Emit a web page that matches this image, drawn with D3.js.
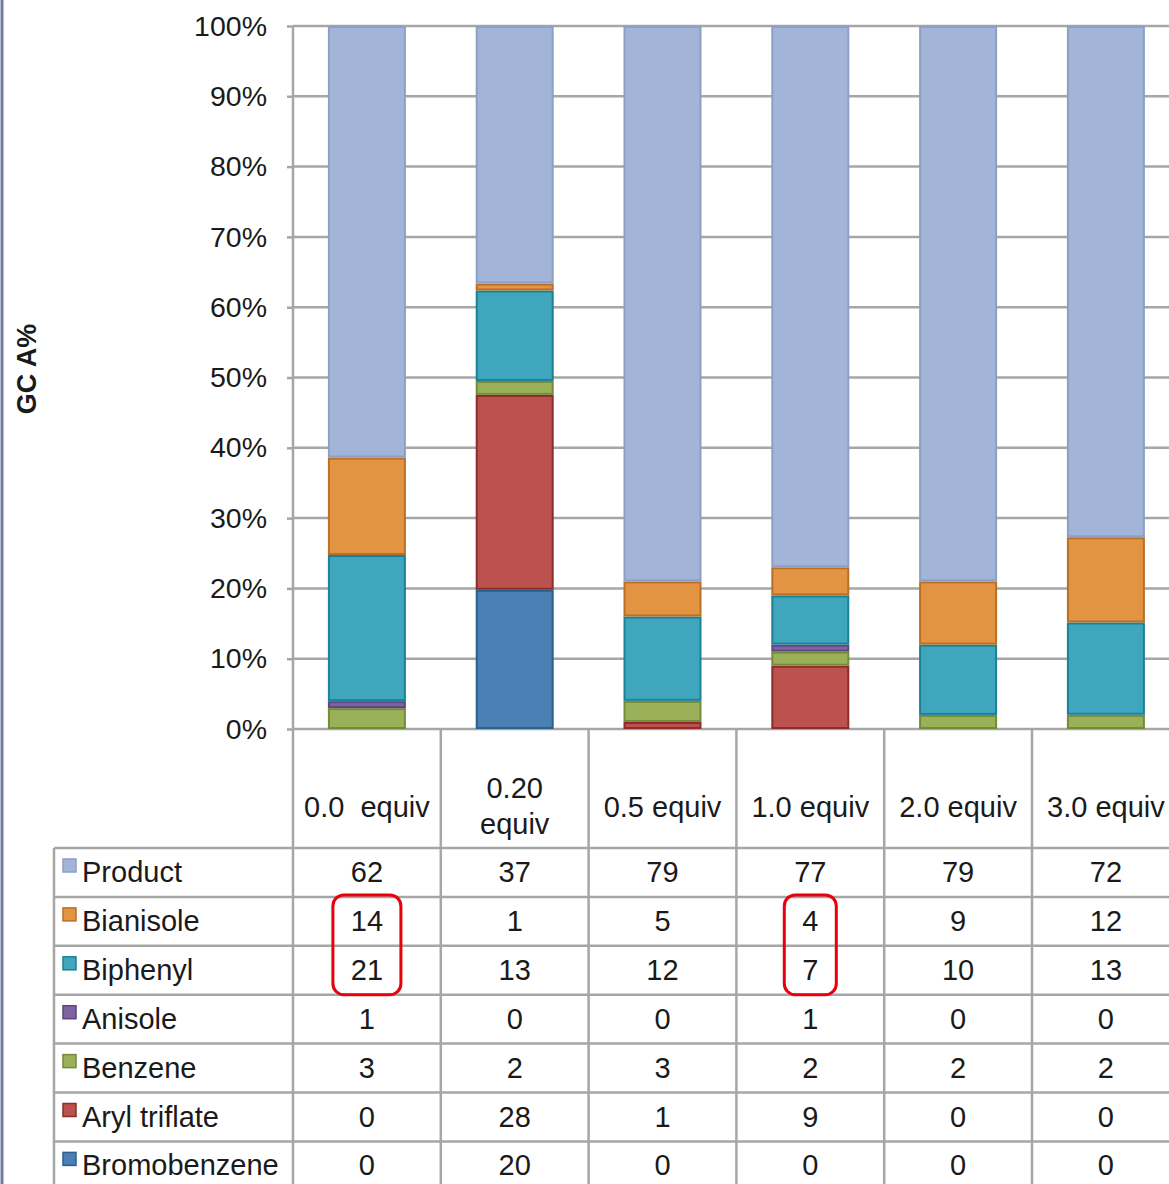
<!DOCTYPE html>
<html>
<head>
<meta charset="utf-8">
<script src="https://cdn.jsdelivr.net/npm/d3@7"></script>
<style>
  body { margin: 0; background: #fff; }
  text { font-family: "Liberation Sans", Arial, sans-serif; fill: #1a1a1a; }
</style>
</head>
<body>
<div id="wrapper"></div>
<script>
// Data (GC area %)
const categories = ["0.0  equiv", "0.20 equiv", "0.5 equiv", "1.0 equiv", "2.0 equiv", "3.0 equiv"];
const categoryLines = [["0.0  equiv"], ["0.20", "equiv"], ["0.5 equiv"], ["1.0 equiv"], ["2.0 equiv"], ["3.0 equiv"]];
const seriesNames = ["Product", "Bianisole", "Biphenyl", "Anisole", "Benzene", "Aryl triflate", "Bromobenzene"];

const product = [62, 37, 79, 77, 79, 72];
const bianisole = [14, 1, 5, 4, 9, 12];
const biphenyl = [21, 13, 12, 7, 10, 13];
const anisole = [1, 0, 0, 1, 0, 0];
const benzene = [3, 2, 3, 2, 2, 2];
const arylTriflate = [0, 28, 1, 9, 0, 0];
const bromobenzene = [0, 20, 0, 0, 0, 0];

const yTicks = [0, 0.1, 0.2, 0.3, 0.4, 0.5, 0.6, 0.7, 0.8, 0.9, 1];

// highlighted cells (red boxes)
const highlightCategories = ["0.0  equiv", "1.0 equiv"];
const highlightRows = ["Bianisole", "Biphenyl"];

function drawChart() {
  const seriesValues = [product, bianisole, biphenyl, anisole, benzene, arylTriflate, bromobenzene];

  const colors = {
    "Product": { fill: "#a2b5d8", stroke: "#8d9fc3" },
    "Bianisole": { fill: "#e39443", stroke: "#b96f28" },
    "Biphenyl": { fill: "#40a6bd", stroke: "#1b8197" },
    "Anisole": { fill: "#8064a2", stroke: "#5e4680" },
    "Benzene": { fill: "#9bb159", stroke: "#748b39" },
    "Aryl triflate": { fill: "#bb524e", stroke: "#8c2d2b" },
    "Bromobenzene": { fill: "#4a80b4", stroke: "#2d5f8f" },
  };

  // rows for the stack: one object per category
  const rows = categories.map((c, i) => {
    const row = { category: c };
    seriesNames.forEach((s, j) => (row[s] = seriesValues[j][i]));
    return row;
  });

  // Dimensions
  let dimensions = {
    width: 1169,
    height: 1184,
    plotLeft: 293,
    plotTop: 26,
    plotBottom: 729,
    bandWidth: 147.8,
    headerBottom: 848,
    rowHeight: 48.9,
    tableLeft: 54,
  };

  const gridColor = "#a6a6a6";
  const fontSize = "29px";

  const wrapper = d3
    .select("#wrapper")
    .append("svg")
    .attr("width", dimensions.width)
    .attr("height", dimensions.height);

  // Scales
  const xScale = d3
    .scaleBand()
    .domain(categories)
    .range([dimensions.plotLeft, dimensions.plotLeft + dimensions.bandWidth * categories.length])
    .paddingInner(0)
    .paddingOuter(0);

  const barWidth = 78;

  const yScale = d3
    .scaleLinear()
    .domain([0, 1])
    .range([dimensions.plotBottom, dimensions.plotTop]);

  const rowScale = d3
    .scaleBand()
    .domain(seriesNames)
    .range([dimensions.headerBottom, dimensions.headerBottom + dimensions.rowHeight * seriesNames.length]);

  // Gridlines + y axis
  const yAxisGenerator = d3
    .axisLeft(yScale)
    .tickValues(yTicks)
    .tickFormat(d3.format(".0%"))
    .tickSize(6)
    .tickPadding(20);

  const yAxis = wrapper
    .append("g")
    .attr("transform", `translate(${dimensions.plotLeft}, 0)`)
    .call(yAxisGenerator);

  yAxis.select(".domain").remove();
  yAxis.selectAll(".tick line").attr("stroke", gridColor).attr("stroke-width", 2.5);
  yAxis
    .selectAll(".tick text")
    .style("font-size", "28.5px")
    .attr("fill", "#1a1a1a");

  wrapper
    .append("g")
    .selectAll("line")
    .data(yTicks)
    .join("line")
    .attr("x1", dimensions.plotLeft)
    .attr("x2", dimensions.width)
    .attr("y1", (d) => yScale(d))
    .attr("y2", (d) => yScale(d))
    .attr("stroke", gridColor)
    .attr("stroke-width", 2.5);

  // Stacked bars (100%)
  const stackOrder = seriesNames.slice().reverse();
  const stacked = d3
    .stack()
    .keys(stackOrder)
    .offset(d3.stackOffsetExpand)(rows);

  const layers = wrapper
    .append("g")
    .selectAll("g")
    .data(stacked)
    .join("g")
    .attr("fill", (d) => colors[d.key].fill)
    .attr("stroke", (d) => colors[d.key].stroke);

  layers
    .selectAll("rect")
    .data((d) => d.filter((p) => p[1] - p[0] > 0))
    .join("rect")
    .attr("x", (d) => xScale(d.data.category) + (xScale.bandwidth() - barWidth) / 2 + 1)
    .attr("y", (d) => yScale(d[1]) + 1)
    .attr("width", barWidth - 2)
    .attr("height", (d) => Math.max(0, yScale(d[0]) - yScale(d[1]) - 2))
    .attr("stroke-width", 2);

  // Axis line
  wrapper
    .append("line")
    .attr("x1", dimensions.plotLeft)
    .attr("x2", dimensions.plotLeft)
    .attr("y1", dimensions.plotTop)
    .attr("y2", dimensions.height)
    .attr("stroke", gridColor)
    .attr("stroke-width", 2.5);

  // y axis title
  wrapper
    .append("text")
    .attr("transform", `translate(36, 369) rotate(-90)`)
    .style("text-anchor", "middle")
    .style("font-size", "27px")
    .style("font-weight", "bold")
    .text("GC A%");

  // Data table
  const table = wrapper.append("g");

  // vertical lines of the table
  const colEdges = categories.map((c) => xScale(c) + xScale.bandwidth());
  table
    .selectAll(".vline")
    .data(colEdges)
    .join("line")
    .attr("class", "vline")
    .attr("x1", (d) => d)
    .attr("x2", (d) => d)
    .attr("y1", dimensions.plotBottom)
    .attr("y2", dimensions.height)
    .attr("stroke", gridColor)
    .attr("stroke-width", 2.5);

  table
    .append("line")
    .attr("x1", dimensions.tableLeft)
    .attr("x2", dimensions.tableLeft)
    .attr("y1", dimensions.headerBottom)
    .attr("y2", dimensions.height)
    .attr("stroke", gridColor)
    .attr("stroke-width", 2.5);

  // horizontal lines
  table
    .selectAll(".hline")
    .data(seriesNames)
    .join("line")
    .attr("class", "hline")
    .attr("x1", dimensions.tableLeft)
    .attr("x2", dimensions.width)
    .attr("y1", (d) => rowScale(d))
    .attr("y2", (d) => rowScale(d))
    .attr("stroke", gridColor)
    .attr("stroke-width", 2.5);

  // header labels
  const headerMid = (dimensions.plotBottom + dimensions.headerBottom) / 2;
  table
    .selectAll(".header")
    .data(categories)
    .join("text")
    .attr("class", "header")
    .attr("x", (d) => xScale(d) + xScale.bandwidth() / 2)
    .attr("y", (d, i) => headerMid + 28 - (categoryLines[i].length - 1) * 19)
    .style("text-anchor", "middle")
    .style("font-size", fontSize)
    .style("white-space", "pre")
    .each(function (d, i) {
      d3.select(this)
        .selectAll("tspan")
        .data(categoryLines[i])
        .join("tspan")
        .attr("x", xScale(d) + xScale.bandwidth() / 2)
        .attr("dy", (t, k) => (k === 0 ? 0 : 36))
        .text((t) => t);
    });

  // row labels with legend keys
  const rowGroups = table
    .selectAll(".row")
    .data(seriesNames)
    .join("g")
    .attr("class", "row")
    .attr("transform", (d) => `translate(0, ${rowScale(d)})`);

  rowGroups
    .append("rect")
    .attr("x", 63)
    .attr("y", 11)
    .attr("width", 13)
    .attr("height", 13)
    .attr("fill", (d) => colors[d].fill)
    .attr("stroke", (d) => colors[d].stroke)
    .attr("stroke-width", 1.5);

  rowGroups
    .append("text")
    .attr("x", 82)
    .attr("y", 34)
    .style("font-size", fontSize)
    .text((d) => d);

  rowGroups
    .selectAll(".value")
    .data((d) => seriesValues[seriesNames.indexOf(d)].map((v, i) => ({ v, c: categories[i] })))
    .join("text")
    .attr("class", "value")
    .attr("x", (d) => xScale(d.c) + xScale.bandwidth() / 2)
    .attr("y", 34)
    .style("text-anchor", "middle")
    .style("font-size", fontSize)
    .text((d) => d.v);

  // red highlight boxes
  const hlTop = rowScale(highlightRows[0]) - 2;
  const hlBottom = rowScale(highlightRows[highlightRows.length - 1]) + rowScale.bandwidth();
  highlightCategories.forEach((c) => {
    const i = categories.indexOf(c);
    const maxDigits = d3.max(highlightRows, (r) => String(seriesValues[seriesNames.indexOf(r)][i]).length);
    const w = maxDigits * 16 + 36;
    const cx = xScale(c) + xScale.bandwidth() / 2;
    wrapper
      .append("rect")
      .attr("x", cx - w / 2)
      .attr("y", hlTop)
      .attr("width", w)
      .attr("height", hlBottom - hlTop)
      .attr("rx", 11)
      .attr("fill", "none")
      .attr("stroke", "#e8000b")
      .attr("stroke-width", 3);
  });

  // page frame line at left
  wrapper
    .append("line")
    .attr("x1", 2)
    .attr("x2", 2)
    .attr("y1", 0)
    .attr("y2", dimensions.height)
    .attr("stroke", "#737aa3")
    .attr("stroke-width", 3);
}

drawChart();
</script>
</body>
</html>
